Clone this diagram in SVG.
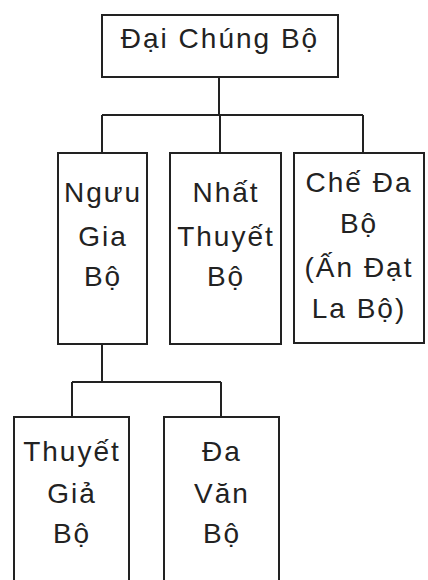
<svg xmlns="http://www.w3.org/2000/svg" width="428" height="580" viewBox="0 0 428 580">
<style>
.box{fill:#fff;stroke:#222;stroke-width:2}
.con{fill:none;stroke:#222;stroke-width:2}
text{font-family:"Liberation Sans",Arial,sans-serif;font-size:28px;fill:#222;text-anchor:middle;letter-spacing:2px}
</style>
<rect width="428" height="580" fill="#fff"/>
<g id="connectors">
<path class="con" d="M219 77V115M102 115H363M102 115V153M220 115V153M363 115V153"/>
<path class="con" d="M102 344V382M72 382H221M72 382V417M221 382V417"/>
</g>
<g id="dai-chung-bo">
<rect class="box" x="102" y="15" width="236" height="62"/>
<text x="220" y="48">Đại Chúng Bộ</text>
</g>
<g id="nguu-gia-bo">
<rect class="box" x="58" y="153" width="89" height="191"/>
<text x="103" y="202">Ngưu</text>
<text x="103" y="246">Gia</text>
<text x="103" y="286">Bộ</text>
</g>
<g id="nhat-thuyet-bo">
<rect class="box" x="170" y="153" width="111" height="191"/>
<text x="226" y="202">Nhất</text>
<text x="226" y="246">Thuyết</text>
<text x="226" y="286">Bộ</text>
</g>
<g id="che-da-bo">
<rect class="box" x="294" y="153" width="130" height="190"/>
<text x="359" y="192">Chế Đa</text>
<text x="359" y="233">Bộ</text>
<text x="359" y="277">(Ấn Đạt</text>
<text x="359" y="318">La Bộ)</text>
</g>
<g id="thuyet-gia-bo">
<rect class="box" x="14" y="417" width="115" height="180"/>
<text x="72" y="461">Thuyết</text>
<text x="72" y="503">Giả</text>
<text x="72" y="543">Bộ</text>
</g>
<g id="da-van-bo">
<rect class="box" x="164" y="417" width="115" height="180"/>
<text x="222" y="461">Đa</text>
<text x="222" y="503">Văn</text>
<text x="222" y="543">Bộ</text>
</g>
</svg>
